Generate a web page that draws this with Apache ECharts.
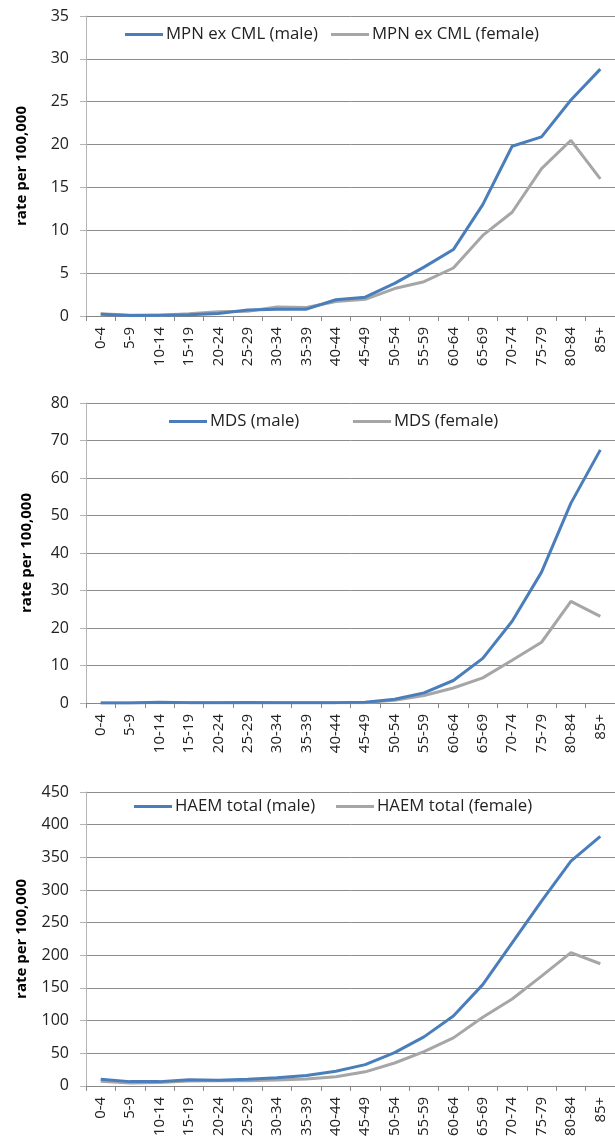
<!DOCTYPE html>
<html>
<head>
<meta charset="utf-8">
<script src="https://cdn.jsdelivr.net/npm/echarts@6/dist/echarts.min.js"></script>
<style>html,body{margin:0;padding:0;background:#fff;}#c{width:615px;height:1139px;}</style>
</head>
<body>
<div id="c"></div>
<script>
const categories = ['0-4','5-9','10-14','15-19','20-24','25-29','30-34','35-39','40-44','45-49','50-54','55-59','60-64','65-69','70-74','75-79','80-84','85+'];

const mpnMale   = [0.2,0.05,0.1,0.15,0.3,0.7,0.8,0.8,1.9,2.2,3.8,5.7,7.75,13.0,19.8,20.9,25.2,28.8];
const mpnFemale = [0.25,0.1,0.1,0.25,0.5,0.55,1.05,1.0,1.7,1.95,3.2,4.0,5.6,9.4,12.1,17.2,20.5,16.0];

const mdsMale   = [0,0,0.2,0.1,0.1,0.15,0.05,0.1,0.1,0.2,1.0,2.7,6.0,11.9,21.8,34.9,53.3,67.5];
const mdsFemale = [0,0,0.1,0.05,0.05,0.1,0.05,0.05,0.05,0.1,0.7,2.0,4.0,6.7,11.4,16.2,27.1,23.1];

const haemMale   = [10,6.5,6.5,9.5,8.5,10,12.5,16,22.5,32.5,51,75,107,155,219,283,344,382];
const haemFemale = [7,4.5,5,7.5,8,8,9,10.5,14,21.5,35,52.5,73.5,105,133,168,204,187];

const yMax = [35, 80, 450];
const yStep = [5, 10, 50];
const names = [
  ['MPN ex CML (male)','MPN ex CML (female)'],
  ['MDS (male)','MDS (female)'],
  ['HAEM total (male)','HAEM total (female)']
];
const seriesData = [[mpnMale,mpnFemale],[mdsMale,mdsFemale],[haemMale,haemFemale]];

const BLUE = '#4a7ebb';
const GRAY = '#a6a6a6';
const FONT = 'Open Sans';

const gridTops = [16, 403, 792];
const nameGaps = [57, 52, 57];
const legendLeft = [[125,331],[169,353],[134,336]];
const legendTop = [26, 413, 798];

const grids = [], xAxes = [], yAxes = [], series = [], legends = [];
for (let i = 0; i < 3; i++) {
  grids.push({left:86, top:gridTops[i], width:534, height:300, containLabel:false});
  xAxes.push({
    type:'category', gridIndex:i, data:categories, boundaryGap:true,
    axisLine:{show:true, lineStyle:{color:'#868686', width:1}},
    axisTick:{show:true, length:5, lineStyle:{color:'#868686'}},
    axisLabel:{rotate:90, interval:0, margin:11, fontFamily:FONT, fontSize:15, color:'#222'},
    splitLine:{show:false}
  });
  yAxes.push({
    type:'value', gridIndex:i, min:0, max:yMax[i], interval:yStep[i],
    name:'rate per 100,000', nameLocation:'middle', nameRotate:90, nameGap:nameGaps[i],
    nameTextStyle:{fontFamily:FONT, fontWeight:'bold', fontSize:15, color:'#000'},
    axisLine:{show:true, lineStyle:{color:'#b4b4b4', width:1}},
    axisTick:{show:true, length:6, lineStyle:{color:'#b4b4b4'}},
    axisLabel:{margin:17, fontFamily:FONT, fontSize:16, color:'#222'},
    splitLine:{show:true, lineStyle:{color:'#8c8c8c', width:1}}
  });
  const cols = [BLUE, GRAY];
  for (let j = 0; j < 2; j++) {
    series.push({
      name:names[i][j], type:'line', xAxisIndex:i, yAxisIndex:i,
      data:seriesData[i][j], symbol:'none', smooth:false,
      lineStyle:{color:cols[j], width:3}, itemStyle:{color:cols[j]},
      z: j === 0 ? 3 : 2
    });
    legends.push({
      data:[names[i][j]], left:legendLeft[i][j], top:legendTop[i], padding:0,
      itemWidth:38, itemHeight:3, icon:'rect', itemStyle:{color:cols[j]},
      textStyle:{fontFamily:FONT, fontSize:16.8, color:'#222', padding:[0,0,0,-2]},
      selectedMode:false
    });
  }
}

const chart = echarts.init(document.getElementById('c'), null, {renderer:'canvas'});
chart.setOption({
  animation:false,
  backgroundColor:'#fff',
  grid:grids, xAxis:xAxes, yAxis:yAxes, series:series, legend:legends
});
</script>
</body>
</html>
